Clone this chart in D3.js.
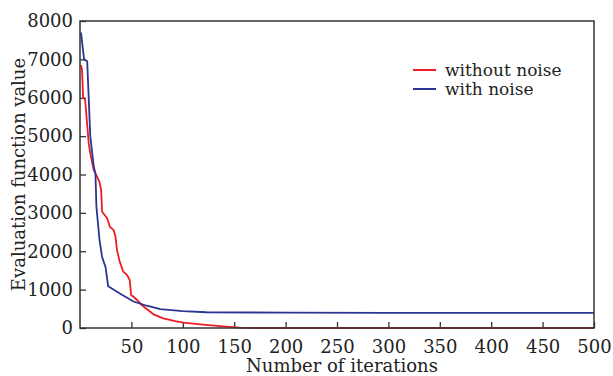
<!DOCTYPE html>
<html>
<head>
<meta charset="utf-8">
<script src="https://cdn.jsdelivr.net/npm/d3@7"></script>
<style>
  body { margin: 0; background: #fff; }
  text { font-family: "DejaVu Serif", "Liberation Serif", serif; fill: #222; }
</style>
</head>
<body>
<div id="chart"></div>
<script>
// iterations and evaluation values
var noNoiseX = [1, 2, 3, 5, 8.5, 10, 13.4, 16.7, 19, 20.6, 21.5, 26.4, 29, 32.8, 34.5, 36, 38.6, 42, 45.8, 48.4, 49.7, 52, 55.5, 60, 68.4, 71.6, 81, 92.7, 100.7, 117, 136, 155, 170, 200, 300, 400, 500];
var noNoiseY = [6850, 6720, 6020, 5940, 4810, 4550, 4110, 3940, 3800, 3590, 3030, 2860, 2640, 2550, 2380, 2030, 1730, 1470, 1380, 1250, 860, 815, 730, 600, 425, 355, 250, 180, 140, 95, 50, 8, 0, 0, 0, 0, 0];

var noiseX = [1, 2, 4, 7, 10, 13.4, 15, 16, 19, 21.5, 24.8, 27.4, 40, 52, 65, 78, 100, 123, 200, 300, 400, 500];
var noiseY = [7700, 7450, 7000, 6950, 5000, 4200, 4030, 3150, 2290, 1850, 1590, 1090, 880, 690, 580, 490, 440, 410, 400, 395, 395, 395];

var xTicks = [50, 100, 150, 200, 250, 300, 350, 400, 450, 500];
var yTicks = [0, 1000, 2000, 3000, 4000, 5000, 6000, 7000, 8000];
var seriesNames = ["without noise", "with noise"];
var seriesColors = ["#ee1c25", "#2a3593"];

const margin = ({ top: 21, right: 19, bottom: 48, left: 80 });
const width = 613, height = 376;
const plotW = width - margin.left - margin.right;
const plotH = height - margin.top - margin.bottom;

var svg = d3.select("#chart").append("svg")
    .attr("width", width)
    .attr("height", height);

var x = d3.scaleLinear().domain([0, 500]).range([0, plotW]);
var y = d3.scaleLinear().domain([0, 8000]).range([plotH, 0]);

var g = svg.append("g").attr("transform", `translate(${margin.left}, ${margin.top})`);

// inward ticks on bottom and left
var xAxis = g.append("g")
    .attr("transform", `translate(0, ${plotH})`)
    .call(d3.axisBottom(x).tickValues(xTicks).tickSize(-6).tickPadding(12));
var yAxis = g.append("g")
    .call(d3.axisLeft(y).tickValues(yTicks).tickSize(-6).tickPadding(7).tickFormat(d3.format("d")));

[xAxis, yAxis].forEach(function(a) {
    a.select(".domain").remove();
    a.selectAll("line").attr("stroke", "#333").attr("stroke-width", 1.3);
    a.selectAll("text").attr("font-size", 18).style("font-family", "DejaVu Serif").attr("fill", "#222");
});

var series = [
    { x: noNoiseX, y: noNoiseY },
    { x: noiseX, y: noiseY }
];

var line = d3.line()
    .x(d => x(d[0]))
    .y(d => y(d[1]));

series.forEach(function(s, i) {
    g.append("path")
        .datum(d3.zip(s.x, s.y))
        .attr("fill", "none")
        .attr("stroke", seriesColors[i])
        .attr("stroke-width", 1.8)
        .attr("d", line);
});

// frame
g.append("rect")
    .attr("width", plotW)
    .attr("height", plotH)
    .attr("fill", "none")
    .attr("stroke", "#333")
    .attr("stroke-width", 1.5);

// legend
var legend = g.selectAll(".legend")
    .data(seriesNames)
    .enter()
    .append("g")
    .attr("transform", (d, i) => `translate(${413 - margin.left}, ${70 - margin.top + i * 19})`);
legend.append("line")
    .attr("x1", 0).attr("x2", 23)
    .attr("stroke", (d, i) => seriesColors[i])
    .attr("stroke-width", 2);
legend.append("text")
    .attr("x", 32)
    .attr("dy", "0.35em")
    .attr("font-size", 17)
    .text(d => d);

// axis titles
svg.append("text")
    .attr("x", margin.left + plotW / 2 + 5)
    .attr("y", height - 4)
    .attr("text-anchor", "middle")
    .attr("font-size", 18)
    .text("Number of iterations");

svg.append("text")
    .attr("transform", `translate(25, ${margin.top + plotH / 2}) rotate(-90)`)
    .attr("text-anchor", "middle")
    .attr("font-size", 18)
    .text("Evaluation function value");
</script>
</body>
</html>
